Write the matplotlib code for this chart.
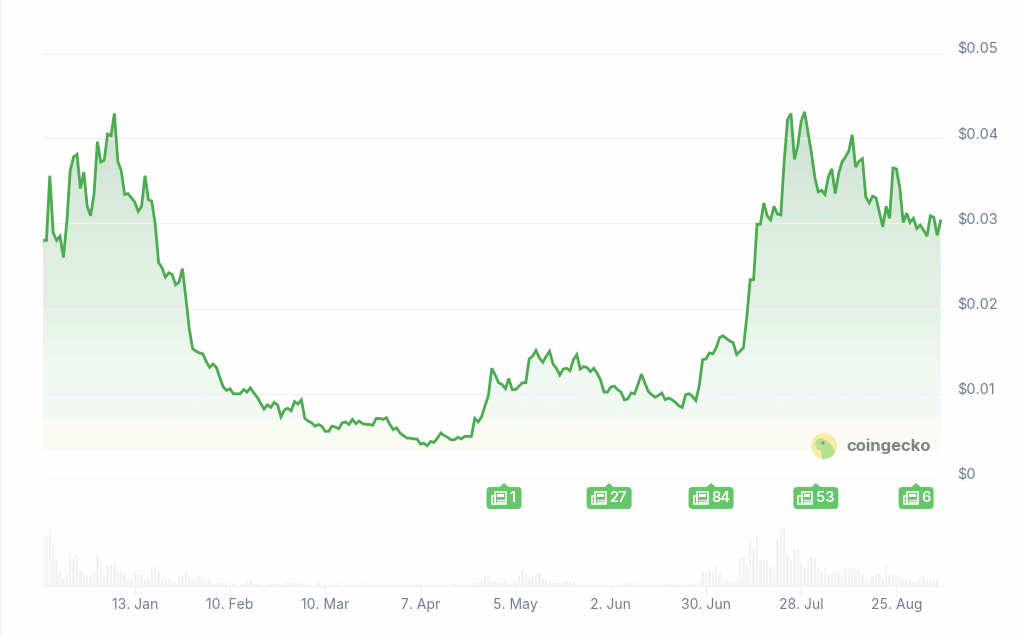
import numpy as np
import matplotlib
matplotlib.use('Agg')
import matplotlib.pyplot as plt
from matplotlib.colors import LinearSegmentedColormap
from matplotlib.patches import Circle, FancyBboxPatch, Polygon, Rectangle
from matplotlib.transforms import ScaledTranslation

plt.rcParams['font.family'] = ['Inter', 'DejaVu Sans']

# daily price
price = [
    .0280, .0280, .0356, .0289, .0280, .0285, .0260, .0301, .0362, .0378, .0381, .0341, .0360, .0320, .0309,
    .0334, .0396, .0372, .0374, .0405, .0403, .0429, .0373, .0362, .0334, .0335, .0330, .0325, .0314, .0320,
    .0356, .0328, .0326, .0299, .0254, .0248, .0237, .0242, .0240, .0228, .0231, .0247, .0213, .0177,
    .0153, .0150, .0148, .0147, .0138, .0131, .0135, .0131, .0119, .0108, .0104, .0106, .0100, .0100, .0100,
    .0105, .0102, .0107, .0101, .0096,
    .0089, .0082, .0087, .0084, .0090, .0087, .0073, .0081, .0083, .0080, .0091, .0088, .0093, .0071, .0068,
    .0066, .0062, .0064, .0062, .0056, .0056, .0062, .0061, .0059, .0066, .0067, .0064, .0070, .0065, .0068,
    .0065, .0064, .0064, .0063, .0071, .0071, .0070, .0072, .0064, .0058, .0060, .0054, .0051, .0048, .0048,
    .0047, .0047, .0041, .0042, .0039, .0044, .0043, .0048, .0054, .0051, .0049, .0046, .0046, .0049, .0047,
    .0050, .0050, .0050, .0071, .0067, .0073, .0086, .0098, .0130, .0122, .0113, .0111, .0106, .0118, .0105,
    .0105, .0109,
    .0113, .0113, .0141, .0144, .0151, .0142, .0137, .0144, .0150, .0135, .0130, .0122, .0129, .0130, .0127,
    .0140, .0146, .0129, .0132, .0131, .0126, .0130, .0124, .0116, .0102, .0102, .0108, .0109, .0105, .0102,
    .0093, .0094, .0101, .0100, .0111, .0123, .0113, .0103, .0099, .0096, .0098, .0101, .0093, .0095, .0093,
    .0090, .0086, .0084, .0099, .0100, .0097, .0092, .0109, .0140, .0141, .0148, .0147, .0154, .0166,
    .0168, .0165, .0162, .0160, .0146, .0150, .0154, .0190,
    .0234, .0234, .0299, .0299, .0324, .0309, .0304, .0320, .0311, .0310, .0373, .0422, .0429, .0375, .0391,
    .0420, .0431, .0407, .0383, .0354, .0337, .0339, .0334, .0355, .0364, .0335, .0358, .0372, .0378, .0385,
    .0404, .0366, .0373, .0376, .0331, .0324, .0332, .0330, .0313, .0296, .0320, .0306, .0365, .0364, .0342,
    .0301, .0312, .0301, .0306, .0294, .0298, .0292, .0285, .0309, .0307, .0286, .0303,
]

# daily volume, only relative heights can be read
volume = [
    150, 150, 172, 122, 80, 48, 25, 40, 100, 80, 95, 45, 38, 32, 30, 48, 88, 75, 35, 60, 62, 65, 45, 45, 35,
    20, 20, 40, 32, 35, 22, 25, 58, 58, 45, 25, 25, 25, 15, 10, 30, 30, 40, 30, 22, 22, 28, 22, 12, 25,
    12, 10, 12, 8, 8, 5, 6, 4, 4, 5, 12, 14, 8, 5, 4, 4, 3, 5, 8, 5, 4, 10, 12, 10, 8, 5, 8, 5, 4, 4,
    3, 8, 4, 3, 2, 3, 10, 8, 4, 3,
    5, 3, 3, 6, 8, 3, 2, 2, 2, 3, 2, 2, 4, 4, 3, 2, 2, 2, 2, 2, 5, 3, 2, 2, 2, 2, 2, 2, 3, 4, 6, 5, 2, 2, 2, 2, 3,
    10, 12, 8, 30, 32, 15, 15, 10, 12, 18, 10, 8, 12, 30, 48, 35, 25, 28, 32, 38, 25, 20, 12, 10, 8, 8, 12, 14, 14, 8, 4, 4,
    4, 4, 3, 3, 3, 3, 4, 3, 4, 3, 2, 3, 5, 10, 8, 8, 3, 3, 2, 2, 4, 3, 2, 4, 5, 5, 6, 6, 3, 3, 4,
    8, 5, 3, 15, 45, 42, 45, 45, 60, 38, 25, 18, 12, 12, 12,
    80, 88, 65, 140, 110, 150, 75, 78, 82, 58, 50, 140, 172, 180, 97, 80, 112, 108, 68, 58,
    72, 86, 80, 58, 38, 58, 35, 35, 44, 40, 48, 50, 50, 50, 50, 50, 36, 15, 17, 30,
    36, 36, 22, 60, 34, 32, 28, 25, 22, 16, 24, 12, 12, 24, 30, 22, 18, 20, 20,
]

date_ticks = [27, 55, 83, 111, 139, 167, 195, 223, 251]
date_labels = ['13. Jan', '10. Feb', '10. Mar', '7. Apr', '5. May', '2. Jun', '30. Jun', '28. Jul', '25. Aug']
price_ticks = [0, .01, .02, .03, .04, .05]
price_labels = ['$0', '$0.01', '$0.02', '$0.03', '$0.04', '$0.05']
news_days = [135.6, 166.5, 196.5, 227.3, 256.8]
news_counts = ['1', '27', '84', '53', '6']

W, H = 1024, 636
LINE = '#4bab50'
TEXT = '#6f7c96'
GRID = '#f2f2f4'
fill_floor = .0034


def px_axes(left, top, right, bottom, **kw):
    return fig.add_axes([left / W, 1 - bottom / H, (right - left) / W, (bottom - top) / H], **kw)


fig = plt.figure(figsize=(W / 100, H / 100), dpi=100, facecolor='#fefefe')

# price panel
ax = px_axes(43, 53, 943, 479)
ax.patch.set_alpha(0)
days = np.arange(len(price))

bands = LinearSegmentedColormap.from_list(
    'bands',
    [(0, '#f9fbf3'), (.08, '#f8fbf3'), (.085, '#f3f8f3'), (.22, '#f1f8f3'), (.31, '#ebf5ed'), (.45, '#e3f0e5'),
     (.6, '#deeee0'), (.8, '#d5e8d9'), (1, '#cde3d2')],
    N=22,
)
grad = np.linspace(1, 0, 256).reshape(-1, 1)
img = ax.imshow(grad, cmap=bands, aspect='auto', extent=(0, days[-1], fill_floor, .0435), zorder=1)
ax.set_xlim(0, 900 / 3.4)
ax.set_ylim(0, .05)
area = Polygon(
    list(zip(days, price)) + [(days[-1], fill_floor), (0, fill_floor)],
    closed=True, transform=ax.transData, facecolor='none', edgecolor='none',
)
ax.add_patch(area)
img.set_clip_path(area)

for v in price_ticks[1:]:
    ax.axhline(v, color=GRID, lw=1, zorder=2)
ax.axhline(0, color='#e9e9ed', lw=1, zorder=2)
ax.plot(days, price, color=LINE, lw=2, solid_joinstyle='miter', zorder=3)

for side in ax.spines:
    ax.spines[side].set_visible(False)
ax.set_xticks([])
ax.yaxis.tick_right()
ax.set_yticks(price_ticks, price_labels, color=TEXT, fontsize=10.5)
ax.tick_params(axis='y', length=0, pad=10.5)
for t in ax.get_yticklabels():
    t.set_transform(t.get_transform() + ScaledTranslation(0, 5.5 / 100, fig.dpi_scale_trans))

# volume panel
ax2 = px_axes(43, 526, 943, 586)
ax2.patch.set_alpha(0)
ax2.bar(np.arange(len(volume)), volume, width=.7, color='#f1f2f4', align='center')
ax2.set_xlim(0, 900 / 3.4)
ax2.set_ylim(0, 180)
for side in ['top', 'left', 'right']:
    ax2.spines[side].set_visible(False)
ax2.spines['bottom'].set_color('#f0f1f3')
ax2.set_yticks([])
ax2.set_xticks(date_ticks, date_labels, color=TEXT, fontsize=10)
ax2.tick_params(axis='x', length=7.5, width=1, color='#f2f3f5', pad=1)

# news badges and logo, drawn in pixel space
over = fig.add_axes([0, 0, 1, 1], facecolor='none')
over.set_xlim(0, W)
over.set_ylim(H, 0)
over.axis('off')
over.add_patch(Rectangle((0, 0), 1.5, H, color='#f5f5f5', lw=0))

BADGE = '#65c669'
for d, n in zip(news_days, news_counts):
    tip = ax.transData.transform((d, 0))[0]
    w = 25 + 10 * len(n)
    x0 = tip - w / 2
    over.add_patch(FancyBboxPatch((x0 + 3.5, 490.5), w - 7, 15, boxstyle='round,pad=3.5,rounding_size=4', lw=0, fc=BADGE))
    over.add_patch(Polygon([(tip - 5, 487.5), (tip, 483), (tip + 5, 487.5)], closed=True, lw=0, fc=BADGE))
    # newspaper icon
    ix = x0 + 5
    over.add_patch(Rectangle((ix + 3.5, 492), 10.5, 12, fc='none', ec='white', lw=1.1))
    over.add_patch(Rectangle((ix, 496), 3.5, 8, fc='none', ec='white', lw=1.1))
    over.add_patch(Rectangle((ix + 5.5, 494), 6.5, 3.2, fc='white', lw=0))
    over.plot([ix + 5.5, ix + 12], [499.5, 499.5], color='white', lw=.9)
    over.plot([ix + 5.5, ix + 12], [502, 502], color='white', lw=.9)
    over.text(ix + 18, 498.5, n, color='white', fontsize=10.5, fontweight='semibold', ha='left', va='center')

logo = Circle((824, 446), 13, fc='#fbeaa9', lw=0)
over.add_patch(logo)
gecko = Polygon([(815, 445), (816, 440), (821, 438), (827, 441), (832, 446), (835, 452), (833, 459),
                 (822, 459), (821, 451), (817, 449)], closed=True, fc='#b4e08f', lw=0)
over.add_patch(gecko)
gecko.set_clip_path(logo)
over.add_patch(Circle((823, 443), 1.6, fc='#8a8f88', lw=0))
over.text(846, 446, 'coingecko', color='#7f8286', fontsize=12, fontweight='bold', ha='left', va='center')

fig.savefig('out.png', dpi=100, facecolor=fig.get_facecolor())
